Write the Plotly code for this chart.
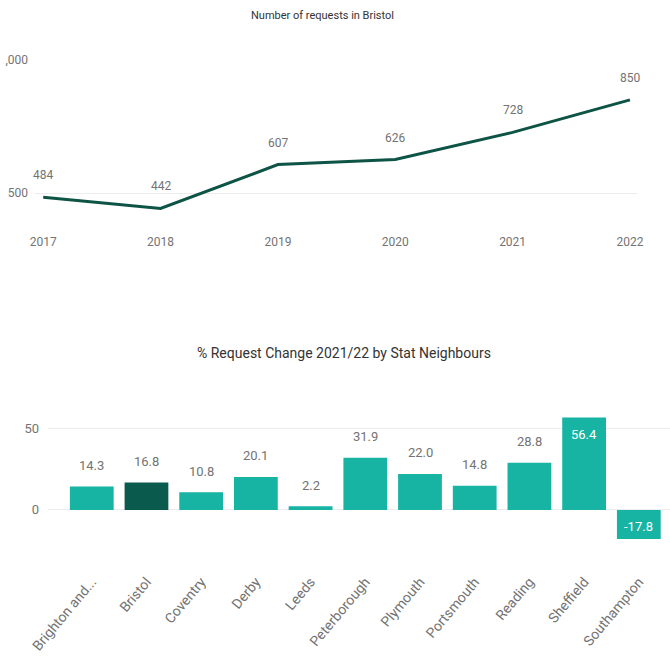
import plotly.graph_objects as go

# ---- data ----
years = [2017, 2018, 2019, 2020, 2021, 2022]
requests = [484, 442, 607, 626, 728, 850]
line_yticks = [500, 1000]
line_yticklabels = ["500", ",000"]

neighbours = ["Brighton and...", "Bristol", "Coventry", "Derby", "Leeds", "Peterborough",
              "Plymouth", "Portsmouth", "Reading", "Sheffield", "Southampton"]
pct_change = [14.3, 16.8, 10.8, 20.1, 2.2, 31.9, 22.0, 14.8, 28.8, 56.4, -17.8]
bar_yticks = [0, 50]
highlight = "Bristol"

FONT = "Roboto, Liberation Sans, sans-serif"
GREY = "#737373"
TEAL = "#17b3a3"
DARK = "#0b5a4e"
LINE = "#0e5446"
GRID = "#ececec"

W, H = 670, 664

fig = go.Figure()

# line chart
fig.add_trace(go.Scatter(
    x=years, y=requests, mode="lines",
    line=dict(color=LINE, width=3),
    xaxis="x", yaxis="y", hoverinfo="skip", showlegend=False, cliponaxis=False,
))
for xv, yv in zip(years, requests):
    fig.add_annotation(x=xv, y=yv, xref="x", yref="y", text=f"{yv}",
                       showarrow=False, yshift=22,
                       font=dict(family=FONT, size=12, color=GREY))

# bar chart
colors = [DARK if n == highlight else TEAL for n in neighbours]
fig.add_trace(go.Bar(
    x=list(range(len(neighbours))), y=pct_change,
    marker=dict(color=colors, line=dict(width=0)),
    xaxis="x2", yaxis="y2", hoverinfo="skip", showlegend=False,
))
top_val = 50
for i, v in enumerate(pct_change):
    if v > top_val:
        fig.add_annotation(x=i, y=v, xref="x2", yref="y2", text=f"{v:.1f}",
                           showarrow=False, yshift=-17,
                           font=dict(family=FONT, size=13, color="white"))
    elif v < 0:
        fig.add_annotation(x=i, y=v, xref="x2", yref="y2", text=f"{v:.1f}",
                           showarrow=False, yshift=13,
                           font=dict(family=FONT, size=13, color="white"))
    else:
        fig.add_annotation(x=i, y=v, xref="x2", yref="y2", text=f"{v:.1f}",
                           showarrow=False, yshift=21,
                           font=dict(family=FONT, size=13, color=GREY))

fig.add_annotation(x=322 / W, y=1 - 16 / H, xref="paper", yref="paper",
                   xanchor="center", yanchor="middle",
                   text="Number of requests in Bristol", showarrow=False,
                   font=dict(family=FONT, size=11, color="#333333"))
fig.add_annotation(x=344 / W, y=1 - 353 / H, xref="paper", yref="paper",
                   xanchor="center", yanchor="middle",
                   text="% Request Change 2021/22 by Stat Neighbours", showarrow=False,
                   font=dict(family=FONT, size=14, color="#333333"))

fig.update_layout(
    template="none",
    width=W, height=H,
    margin=dict(l=0, r=0, t=0, b=0, autoexpand=False),
    paper_bgcolor="white", plot_bgcolor="white",
    font=dict(family=FONT, color=GREY),
    bargap=0.2,
    xaxis=dict(domain=[35 / W, 637 / W], range=[2016.93, 2022.06],
               tickvals=years, ticktext=[str(y) for y in years],
               showgrid=False, zeroline=False, showline=False, ticks="",
               tickfont=dict(family=FONT, size=12, color=GREY),
               ticklabelstandoff=16, automargin=False),
    yaxis=dict(domain=[1 - 217 / H, 1 - 60 / H], range=[410, 1000],
               tickvals=line_yticks, ticktext=line_yticklabels,
               showgrid=True, gridcolor=GRID, gridwidth=1, zeroline=False,
               showline=False, ticks="",
               tickfont=dict(family=FONT, size=12, color=GREY),
               ticklabelstandoff=6, automargin=False),
    xaxis2=dict(domain=[48 / W, 1.0], range=[-0.8, 10.57],
                tickvals=list(range(len(neighbours))), ticktext=neighbours,
                tickangle=-50, showgrid=False, zeroline=False, showline=False,
                ticks="", tickfont=dict(family=FONT, size=14, color=GREY),
                anchor="y2", ticklabelstandoff=6, automargin=False),
    yaxis2=dict(domain=[1 - 564 / H, 1 - 406.7 / H], range=[-33, 63],
                tickvals=bar_yticks, showgrid=True, gridcolor=GRID, gridwidth=1,
                zeroline=True, zerolinecolor=GRID, zerolinewidth=1,
                showline=False, ticks="", anchor="x2",
                tickfont=dict(family=FONT, size=13, color=GREY),
                ticklabelstandoff=8, automargin=False),
)

fig.write_html("out.html",
               config={"displayModeBar": False},
               post_script="document.body.style.margin='0';document.body.style.overflow='hidden';")
